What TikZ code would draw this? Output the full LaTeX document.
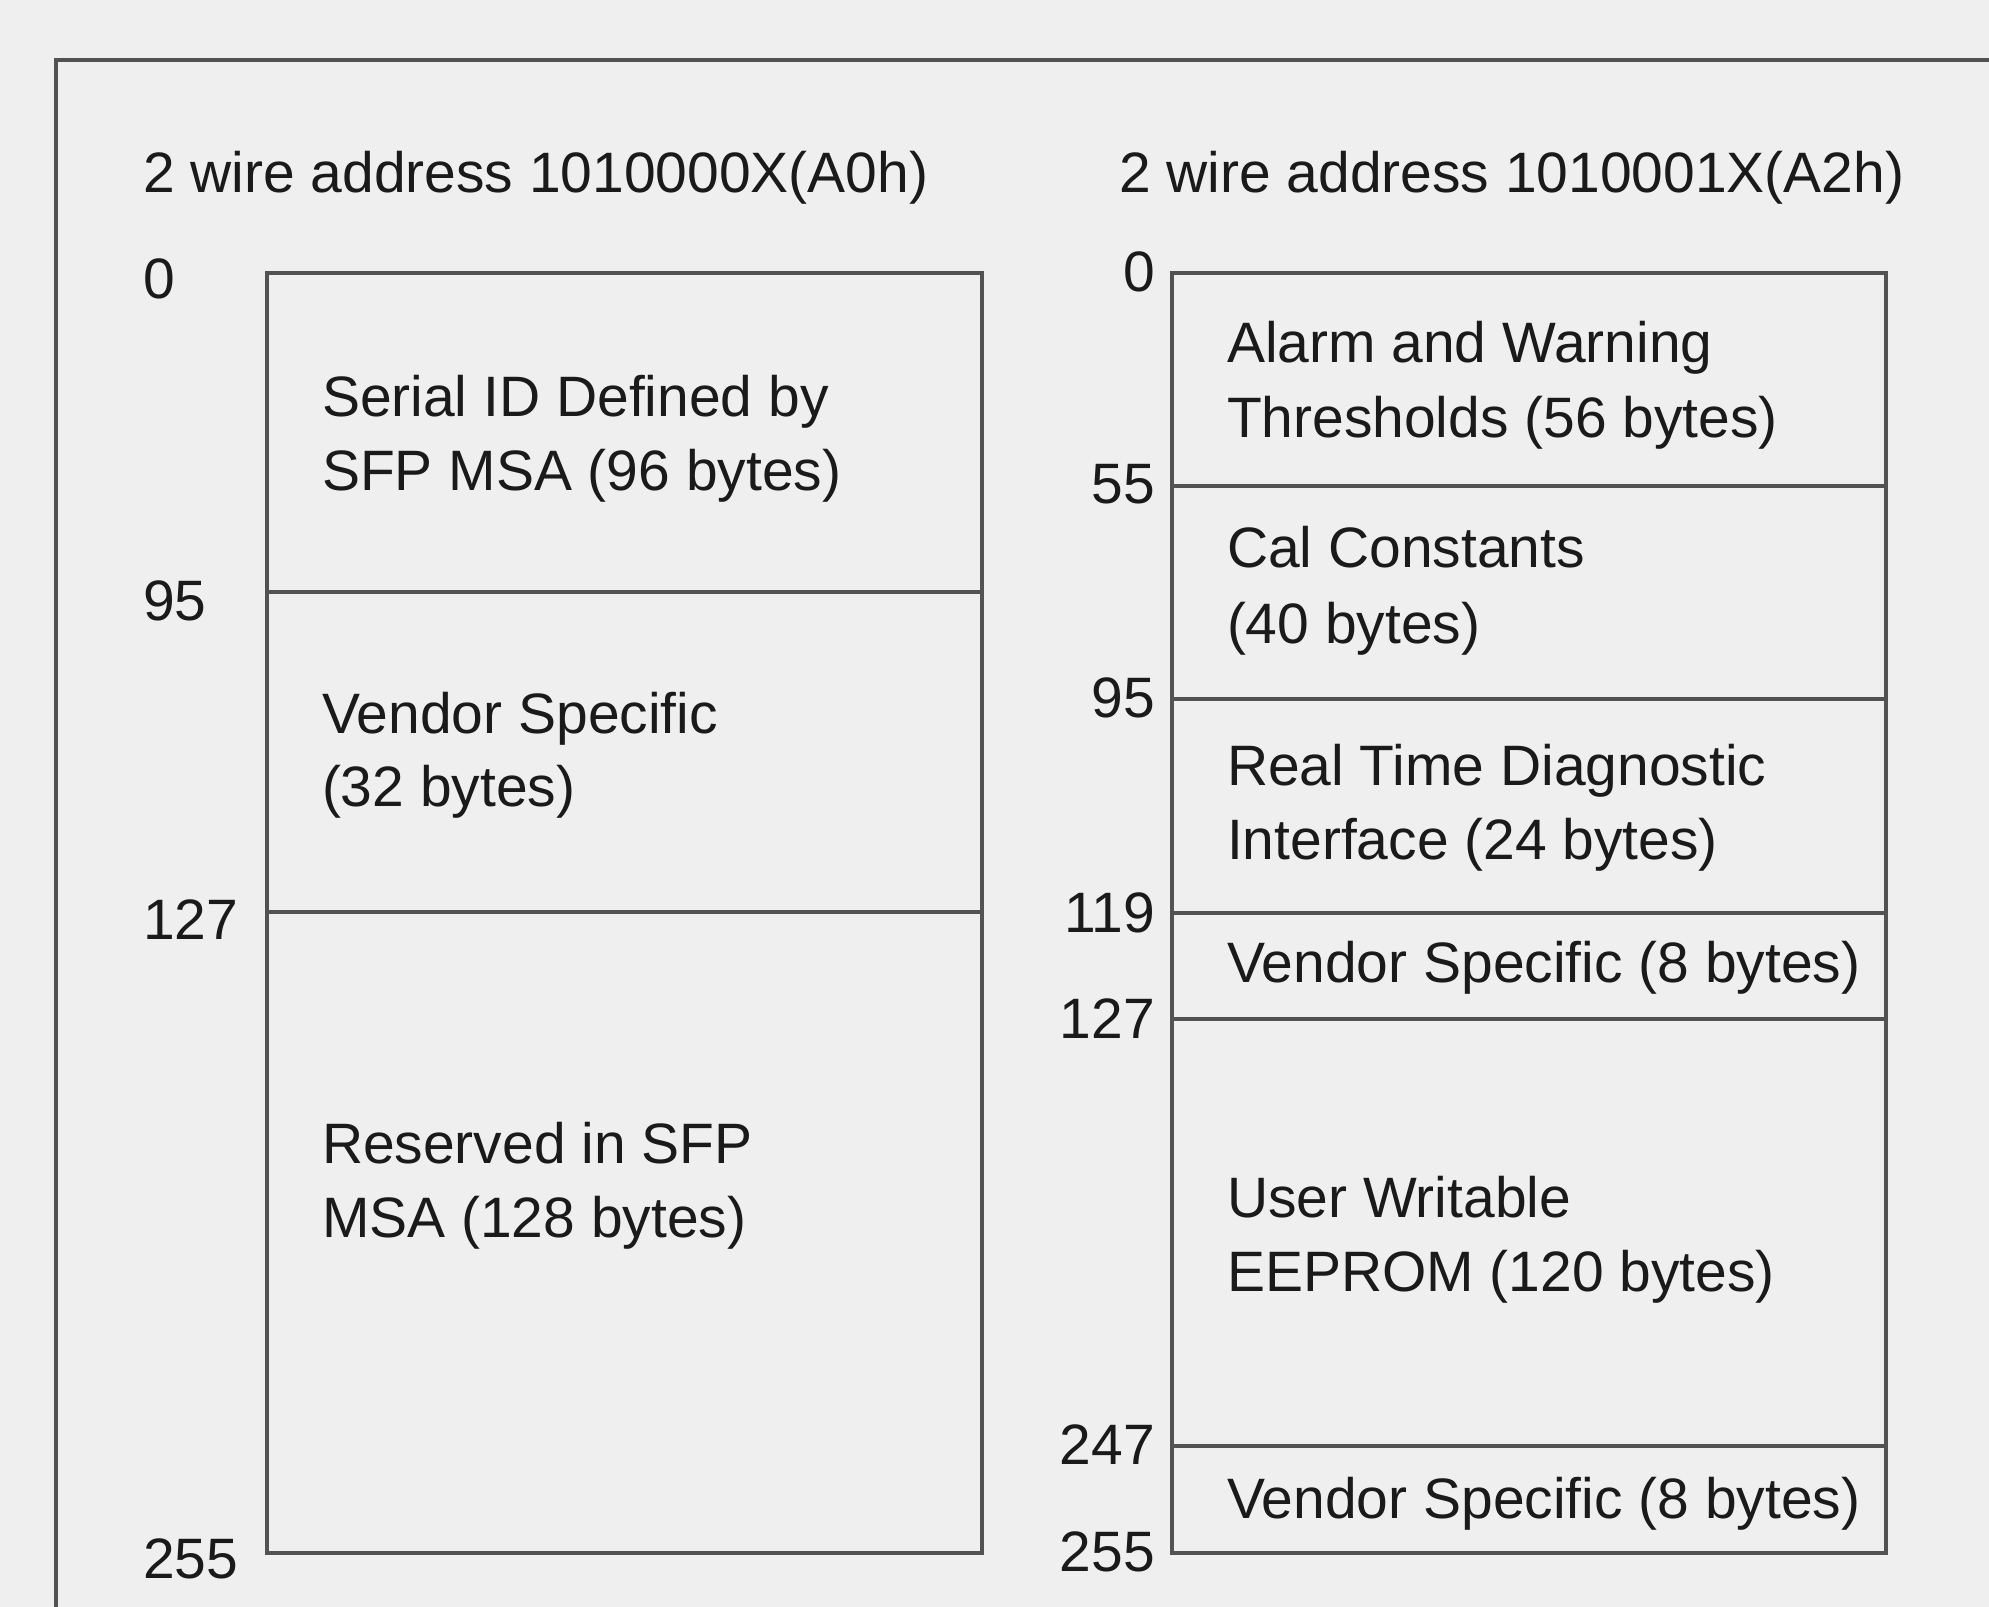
\documentclass[tikz,border=0pt]{standalone}
\usepackage{fontspec}
\setmainfont{Liberation Sans}
\definecolor{bg}{RGB}{239,239,239}
\definecolor{rule}{RGB}{82,82,82}
\definecolor{ink}{RGB}{26,26,26}
\begin{document}
\begin{tikzpicture}[x=0.01cm,y=-0.01cm,
  lbl/.style={inner sep=0pt, outer sep=0pt, text=ink,
              font=\fontsize{16.2pt}{21pt}\selectfont},
  txt/.style={lbl, anchor=base west},
  numl/.style={lbl, anchor=base west},
  numr/.style={lbl, anchor=base east},
  frameline/.style={draw=rule, line width=1.3pt},
  cell/.style={draw=rule, line width=1.15pt}]
% page background and outer frame (runs off the right and bottom edges)
\fill[bg] (0,0) rectangle (1989,1607);
\useasboundingbox (0,0) rectangle (1989,1607);
\clip (0,0) rectangle (1989,1607);
\draw[frameline] (56,1700) -- (56,60) -- (2100,60);

% ---------- A0h memory map ----------
\node[txt] (titleA) at (143,193) {2 wire address 1010000X(A0h)};
\draw[cell] (267,273) rectangle (982,1553);
\draw[cell] (267,592) -- (982,592);
\draw[cell] (267,912) -- (982,912);

\node[numl] (a0)   at (143,299)  {0};
\node[numl] (a95)  at (143,620)  {95};
\node[numl] (a127) at (143,939)  {127};
\node[numl] (a255) at (143,1578) {255};

\node[txt] (a1l1) at (322,417)  {Serial ID Defined by};
\node[txt] (a1l2) at (322,491)  {SFP MSA (96 bytes)};
\node[txt] (a2l1) at (322,733)  {Vendor Specific};
\node[txt] (a2l2) at (322,806)  {(32 bytes)};
\node[txt] (a3l1) at (322,1163) {Reserved in SFP};
\node[txt] (a3l2) at (322,1237) {MSA (128 bytes)};

% ---------- A2h memory map ----------
\node[txt] (titleB) at (1119,193) {2 wire address 1010001X(A2h)};
\draw[cell] (1172,273) rectangle (1886,1553);
\foreach \yy in {486,699,913,1019,1446}
  \draw[cell] (1172,\yy) -- (1886,\yy);

\node[numr] (b0)   at (1155,292)  {0};
\node[numr] (b55)  at (1155,504)  {55};
\node[numr] (b95)  at (1155,717)  {95};
\node[numr] (b119) at (1155,932)  {119};
\node[numr] (b127) at (1155,1038) {127};
\node[numr] (b247) at (1155,1464) {247};
\node[numr] (b255) at (1155,1571) {255};

\node[txt] (b1l1) at (1227,363)  {Alarm and Warning};
\node[txt] (b1l2) at (1227,438)  {Thresholds (56 bytes)};
\node[txt] (b2l1) at (1227,568)  {Cal Constants};
\node[txt] (b2l2) at (1227,643)  {(40 bytes)};
\node[txt] (b3l1) at (1227,785)  {Real Time Diagnostic};
\node[txt] (b3l2) at (1227,859)  {Interface (24 bytes)};
\node[txt] (b4)   at (1227,982)  {Vendor Specific (8 bytes)};
\node[txt] (b5l1) at (1227,1217) {User Writable};
\node[txt] (b5l2) at (1227,1291) {EEPROM (120 bytes)};
\node[txt] (b6)   at (1227,1518) {Vendor Specific (8 bytes)};
\end{tikzpicture}
\end{document}
